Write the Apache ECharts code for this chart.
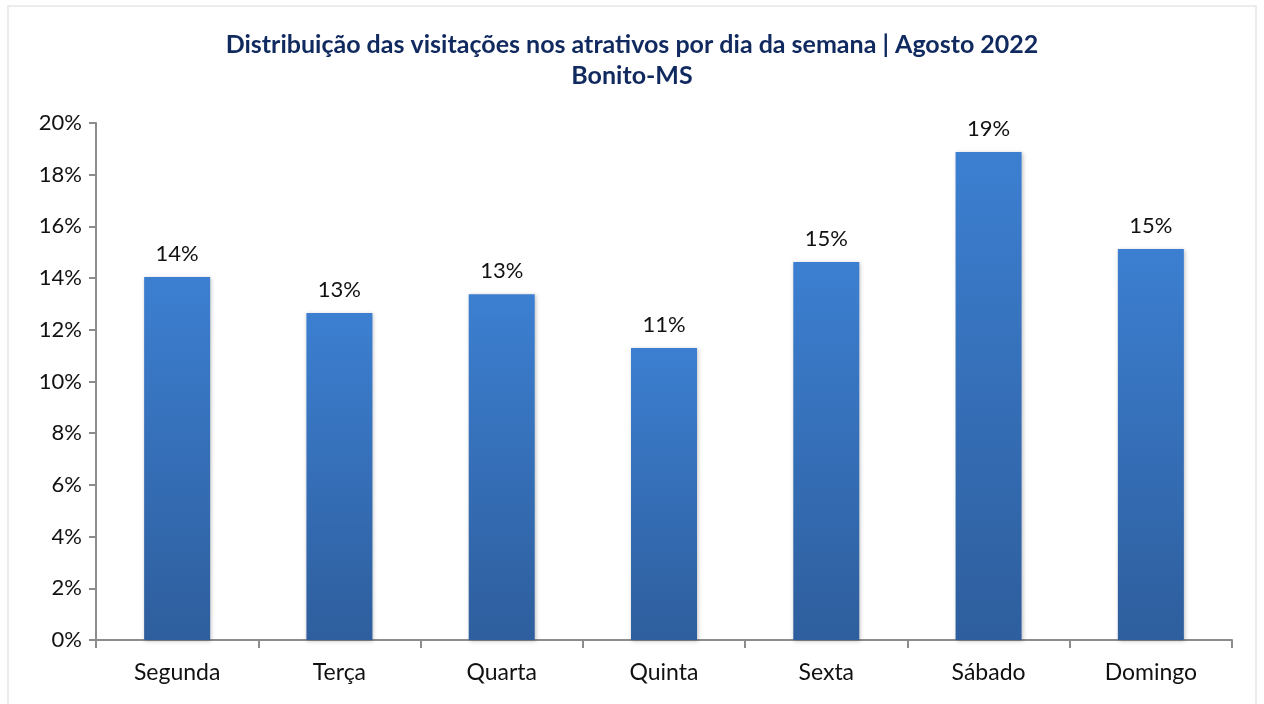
<!DOCTYPE html>
<html>
<head>
<meta charset="utf-8">
<script src="https://cdn.jsdelivr.net/npm/echarts@6/dist/echarts.min.js"></script>
<style>
html,body{margin:0;padding:0;background:#fff;}
#frame{position:absolute;left:7px;top:5px;width:1250px;height:720px;border:2px solid #ececec;box-sizing:border-box;}
#chart{width:1264px;height:704px;position:absolute;left:0;top:0;}
</style>
</head>
<body>
<div id="frame"></div>
<div id="chart"></div>
<script>
// dias da semana
var dias = ['Segunda', 'Terça', 'Quarta', 'Quinta', 'Sexta', 'Sábado', 'Domingo'];
// percentual de visitações
var valores = [14.04, 12.65, 13.38, 11.30, 14.62, 18.88, 15.13];
var rotulos = ['14%', '13%', '13%', '11%', '15%', '19%', '15%'];

var font = 'Lato, "Open Sans", sans-serif';

var myChart = echarts.init(document.getElementById('chart'));
var option = {
    animation: false,
    title: {
        text: 'Distribuição das visitações nos atrativos por dia da semana | Agosto 2022\nBonito-MS',
        left: 'center',
        top: 24,
        textStyle: {
            color: '#10295e',
            fontSize: 25,
            fontWeight: 'bold',
            fontFamily: font,
            lineHeight: 31
        }
    },
    grid: {
        left: 96,
        right: 32,
        top: 123,
        bottom: 64,
        containLabel: false
    },
    xAxis: {
        type: 'category',
        data: dias,
        axisLine: { lineStyle: { color: '#8c8c8c', width: 2 } },
        axisTick: { show: true, length: 8, lineStyle: { color: '#8c8c8c', width: 2 } },
        axisLabel: { color: '#111', fontSize: 23, fontFamily: font, margin: 21 }
    },
    yAxis: {
        type: 'value',
        min: 0,
        max: 20,
        interval: 2,
        splitLine: { show: false },
        axisLine: { show: true, lineStyle: { color: '#8c8c8c', width: 2 } },
        axisTick: { show: true, length: 7, lineStyle: { color: '#8c8c8c', width: 2 } },
        axisLabel: { color: '#111', fontSize: 22, fontFamily: font, margin: 14, formatter: '{value}%' }
    },
    series: [{
        type: 'bar',
        data: valores,
        barWidth: 66,
        itemStyle: {
            color: new echarts.graphic.LinearGradient(0, 0, 0, 1, [
                { offset: 0, color: '#3c7fd1' },
                { offset: 1, color: '#2e5e9d' }
            ]),
            shadowColor: 'rgba(0,0,0,0.25)',
            shadowBlur: 4,
            shadowOffsetX: 1,
            shadowOffsetY: 1
        },
        label: {
            show: true,
            position: 'top',
            distance: 12,
            color: '#111',
            fontSize: 22,
            fontFamily: font,
            formatter: function (p) { return rotulos[p.dataIndex]; }
        }
    }]
};
myChart.setOption(option);
</script>
</body>
</html>
